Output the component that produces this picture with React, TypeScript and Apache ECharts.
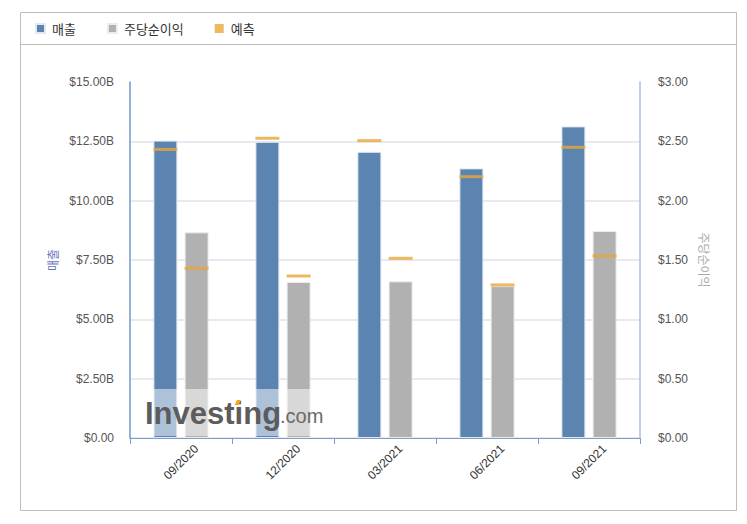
import React, { useEffect, useRef } from "react";
import * as echarts from "echarts";

const categories = ["09/2020", "12/2020", "03/2021", "06/2021", "09/2021"];
const revenue = [12.53, 12.48, 12.06, 11.36, 13.13]; // billions USD
const revenueForecast = [12.16, 12.63, 12.53, 11.01, 12.25];
const eps = [1.733, 1.315, 1.32, 1.28, 1.744];
const epsForecast = [1.43, 1.365, 1.514, 1.29, 1.534];
const legendNames = ["매출", "주당순이익", "예측"];

const BLUE = "#5b84b1";
const GRAY = "#b1b1b1";
const ORANGE = "#e8a838";

export default function App() {
  const ref = useRef<HTMLDivElement>(null);
  useEffect(() => {
    document.body.style.margin = "0";
    const chart = echarts.init(ref.current!, null, { renderer: "svg" });
    const font = "'Liberation Sans', Arial, sans-serif";
    const kfont = "'Noto Sans CJK KR', 'Liberation Sans', sans-serif";
    chart.setOption({
      animation: false,
      backgroundColor: "#ffffff",
      textStyle: { fontFamily: font },
      legend: {
        left: 30,
        top: 17,
        icon: "rect",
        itemWidth: 9,
        itemHeight: 9,
        itemGap: 31,
        data: legendNames,
        textStyle: { fontFamily: kfont, fontSize: 13, color: "#333", padding: [0, 0, 0, 2] },
      },
      grid: { left: 130, right: 107, top: 82, bottom: 86 },
      xAxis: {
        type: "category",
        data: categories,
        axisLine: { lineStyle: { color: "#7d9dcc", width: 1 } },
        axisTick: { show: true, length: 6, lineStyle: { color: "#7d9dcc" } },
        axisLabel: {
          interval: 0,
          rotate: 45,
          align: "center",
          verticalAlign: "middle",
          margin: 24,
          color: "#333",
          fontSize: 12,
        },
      },
      yAxis: [
        {
          type: "value",
          min: 0,
          max: 15,
          interval: 2.5,
          name: "매출",
          nameLocation: "middle",
          nameGap: 72,
          nameTextStyle: { color: "#6674bd", fontSize: 12, fontFamily: kfont },
          axisLine: { show: true, lineStyle: { color: "#7399cb", width: 1.5 } },
          axisTick: { show: false },
          axisLabel: {
            margin: 16,
            color: "#555",
            fontSize: 12,
            formatter: (v: number) => (v === 0 ? "$0.00" : `$${v.toFixed(2)}B`),
          },
          splitLine: { show: true, showMaxLine: false, lineStyle: { color: "#e9e9ef", width: 2 } },
        },
        {
          type: "value",
          min: 0,
          max: 3,
          interval: 0.5,
          name: "주당순이익",
          nameLocation: "middle",
          nameRotate: -90,
          nameGap: 56,
          nameTextStyle: { color: "#aaaaaa", fontSize: 12, fontFamily: kfont },
          axisLine: { show: true, lineStyle: { color: "#aabfdc", width: 1.5 } },
          axisTick: { show: false },
          axisLabel: {
            margin: 18,
            color: "#555",
            fontSize: 12,
            formatter: (v: number) => `$${v.toFixed(2)}`,
          },
          splitLine: { show: false },
        },
      ],
      series: [
        {
          name: "매출",
          type: "bar",
          yAxisIndex: 0,
          data: revenue,
          barWidth: 24,
          barGap: "30%",
          itemStyle: { color: BLUE, borderColor: "#e3e9f2", borderWidth: 1 },
        },
        {
          name: "주당순이익",
          type: "bar",
          yAxisIndex: 1,
          data: eps,
          barWidth: 24,
          barGap: "30%",
          itemStyle: { color: GRAY, borderColor: "#ececec", borderWidth: 1 },
        },
        {
          name: "예측",
          type: "scatter",
          yAxisIndex: 0,
          data: revenueForecast,
          symbol: "rect",
          symbolSize: [24, 3],
          symbolOffset: [-15.6, 0],
          itemStyle: { color: ORANGE },
          z: 5,
        },
        {
          name: "예측",
          type: "scatter",
          yAxisIndex: 1,
          data: epsForecast,
          symbol: "rect",
          symbolSize: [24, 3],
          symbolOffset: [15.6, 0],
          itemStyle: { color: ORANGE },
          z: 5,
        },
      ],
      graphic: [
        {
          type: "rect",
          z: 100,
          shape: { x: 20.5, y: 12.5, width: 716, height: 498 },
          style: { fill: "none", stroke: "#bdbdbd", lineWidth: 1 },
        },
        {
          type: "line",
          z: 100,
          shape: { x1: 20, y1: 44.5, x2: 736, y2: 44.5 },
          style: { stroke: "#bdbdbd", lineWidth: 1 },
        },
        {
          type: "rect",
          z: 100,
          shape: { x: 147, y: 389, width: 178, height: 47 },
          style: { fill: "rgba(255,255,255,0.5)" },
        },
        {
          type: "text",
          z: 101,
          x: 145,
          y: 413,
          style: {
            text: "Investing",
            fontFamily: font,
            fontWeight: "bold",
            fontSize: 31,
            fill: "#5c5c5c",
            verticalAlign: "middle",
            align: "left",
          },
        },
        {
          type: "text",
          z: 101,
          x: 280,
          y: 416,
          style: {
            text: ".com",
            fontFamily: font,
            fontSize: 20,
            fill: "#6a6a6a",
            verticalAlign: "middle",
            align: "left",
          },
        },
        {
          type: "polygon",
          z: 102,
          shape: { points: [[234.5, 405], [237, 400], [241, 400], [238.5, 405]] },
          style: { fill: "#f5a623" },
        },
      ],
    });
    return () => chart.dispose();
  }, []);
  return <div ref={ref} style={{ width: 747, height: 524 }} />;
}
